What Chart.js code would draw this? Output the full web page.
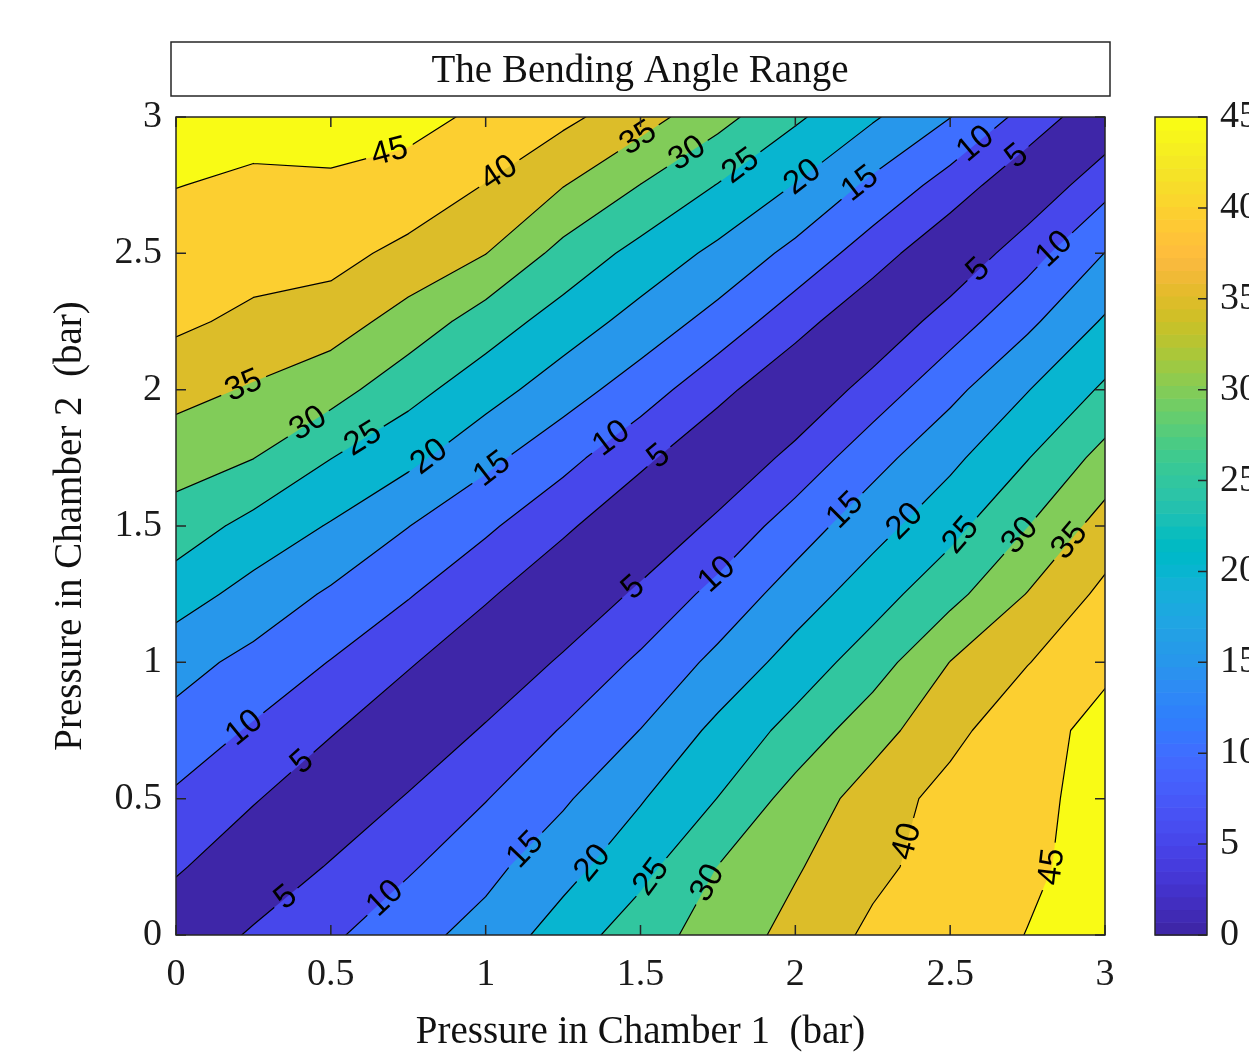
<!DOCTYPE html>
<html>
<head>
<meta charset="utf-8">
<script src="https://cdn.jsdelivr.net/npm/chart.js@4.4.0/dist/chart.umd.min.js"></script>
<style>
  html, body { margin: 0; padding: 0; background: #fff; }
</style>
</head>
<body>
<canvas id="chart" width="1249" height="1052"></canvas>
<script>
// grid of the measurements
var pressure1 = [0, 0.25, 0.5, 0.75, 1, 1.25, 1.5, 1.75, 2, 2.25, 2.5, 2.75, 3];
var pressure2 = [0, 0.25, 0.5, 0.75, 1, 1.25, 1.5, 1.75, 2, 2.25, 2.5, 2.75, 3];
// bending angle, one row per chamber 2 pressure, one column per chamber 1 pressure
var angle = [
  [0.5, 5.8, 9.2, 13.3, 16.8, 22.3, 27.8, 32.2, 36.6, 41.0, 43.0, 45.1, 47.0],
  [5.8, 0.5, 5.5, 9.4, 13.6, 18.2, 23.4, 30.1, 34.5, 38.8, 42.2, 44.3, 46.5],
  [9.2, 5.5, 0.5, 5.5, 9.8, 14.3, 19.6, 25.1, 32.0, 37.2, 41.9, 43.9, 46.5],
  [13.3, 9.4, 5.5, 0.5, 5.6, 10.4, 15.1, 21.3, 26.7, 33.1, 38.4, 44.0, 45.8],
  [16.8, 13.6, 9.8, 5.6, 0.6, 5.8, 10.9, 16.3, 22.1, 27.6, 35.1, 39.8, 44.5],
  [22.3, 18.2, 14.3, 10.4, 5.8, 0.6, 6.0, 11.6, 17.3, 22.8, 28.4, 35.2, 41.2],
  [27.8, 23.4, 19.6, 15.1, 10.9, 6.0, 0.6, 6.2, 12.5, 18.1, 23.4, 29.9, 37.1],
  [32.2, 30.1, 25.1, 21.3, 16.3, 11.6, 6.2, 0.7, 6.5, 13.2, 18.8, 24.8, 31.7],
  [36.6, 34.5, 32.0, 26.7, 22.1, 17.3, 12.5, 6.5, 0.7, 7.0, 13.6, 19.8, 25.8],
  [41.0, 38.8, 37.2, 33.1, 27.6, 22.8, 18.1, 13.2, 7.0, 0.8, 7.4, 13.9, 20.6],
  [43.0, 42.2, 41.9, 38.4, 35.1, 28.4, 23.4, 18.8, 13.6, 7.4, 0.8, 7.9, 15.1],
  [45.1, 44.3, 44.5, 44.0, 39.8, 35.2, 29.9, 24.8, 19.8, 13.9, 7.9, 0.9, 8.3],
  [47.0, 46.5, 46.5, 45.8, 44.5, 41.2, 37.1, 31.7, 25.8, 20.6, 15.1, 8.3, 1.0]
];
var levels = [5, 10, 15, 20, 25, 30, 35, 40, 45];
var colorMin = 0, colorMax = 45;

// where the contour labels sit (data units) and which line they belong to
var labelP1 = [0.69, 1.04, 1.50, 1.66, 1.83, 2.03, 2.22, 2.59, 2.72, 2.59, 2.84, 1.57, 1.42, 2.15, 2.35, 2.53, 2.72, 2.88, 1.74, 1.48, 0.22, 0.43, 0.62, 0.82, 1.02, 0.22, 0.41, 0.36, 0.67, 1.13, 1.36, 1.55, 1.75, 2.37, 2.83];
var labelP2 = [2.87, 2.80, 2.91, 2.85, 2.81, 2.77, 2.74, 2.89, 2.85, 2.44, 2.51, 1.74, 1.80, 1.57, 1.52, 1.47, 1.47, 1.45, 1.33, 1.27, 2.01, 1.87, 1.79, 1.75, 1.71, 0.76, 0.63, 0.13, 0.14, 0.31, 0.25, 0.20, 0.17, 0.34, 0.25];
var labelLevel = [45, 40, 35, 30, 25, 20, 15, 10, 5, 5, 10, 5, 10, 15, 20, 25, 30, 35, 10, 5, 35, 30, 25, 20, 15, 10, 5, 5, 10, 15, 20, 25, 30, 40, 45];

// parula, 64 steps
var parula = ['#3e26a8','#402ab4','#422ec0','#4332cb','#4537d5','#463cde','#4741e5','#4747eb',
  '#484df0','#4852f4','#4758f8','#465efb','#4563fd','#4269fe','#3e6fff','#3875fe',
  '#327cfc','#2f81fa','#2e87f7','#2d8cf3','#2b91ef','#2797eb','#259be8','#23a0e5',
  '#20a5e3','#1ca9df','#18addb','#12b1d6','#08b5d0','#01b8ca','#02bac3','#0bbdbd',
  '#19bfb6','#24c1ae','#2cc4a7','#31c69f','#37c897','#3fca8e','#4acb84','#57cc7a',
  '#64cd6f','#72cd64','#81cc59','#8fcb4e','#9dc943','#abc739','#b9c431','#c5c22a',
  '#d1bf27','#dcbd29','#e6bb2d','#f0ba36','#f8ba3d','#febe3c','#fec338','#fec934',
  '#fccf30','#fad62d','#f7dc2a','#f5e327','#f5e924','#f6ef20','#f7f51b','#f9fb15'];

function levelColor(v) {
  var k = Math.floor((v - colorMin) / (colorMax - colorMin) * parula.length);
  return parula[Math.max(0, Math.min(parula.length - 1, k))];
}

function cross(a, b, va, vb, L) {
  var t = (L - va) / (vb - va);
  return [a[0] + t * (b[0] - a[0]), a[1] + t * (b[1] - a[1])];
}

function cell(i, j) {
  return {
    c: [[pressure1[i], pressure2[j]], [pressure1[i + 1], pressure2[j]], [pressure1[i + 1], pressure2[j + 1]], [pressure1[i], pressure2[j + 1]]],
    v: [angle[j][i], angle[j][i + 1], angle[j + 1][i + 1], angle[j + 1][i]]
  };
}

// region where angle >= L, cell by cell (marching squares)
function regionAbove(L) {
  var polys = [];
  for (var j = 0; j < pressure2.length - 1; j++) {
    for (var i = 0; i < pressure1.length - 1; i++) {
      var q = cell(i, j), pts = [], kind = [], nx = 0;
      for (var k = 0; k < 4; k++) {
        var n = (k + 1) % 4;
        if (q.v[k] >= L) { pts.push(q.c[k]); kind.push(1); }
        if ((q.v[k] >= L) !== (q.v[n] >= L)) { pts.push(cross(q.c[k], q.c[n], q.v[k], q.v[n], L)); kind.push(0); nx++; }
      }
      if (!pts.length) continue;
      var mid = (q.v[0] + q.v[1] + q.v[2] + q.v[3]) / 4;
      if (nx === 4 && mid < L) {
        for (var m = 0; m < pts.length; m++) {
          if (kind[m] === 1) polys.push([pts[(m - 1 + pts.length) % pts.length], pts[m], pts[(m + 1) % pts.length]]);
        }
      } else {
        polys.push(pts);
      }
    }
  }
  return polys;
}

function contourSegments(L) {
  var segs = [];
  for (var j = 0; j < pressure2.length - 1; j++) {
    for (var i = 0; i < pressure1.length - 1; i++) {
      var q = cell(i, j), xs = [], idx = [];
      for (var k = 0; k < 4; k++) {
        var n = (k + 1) % 4;
        if ((q.v[k] >= L) !== (q.v[n] >= L)) { xs[k] = cross(q.c[k], q.c[n], q.v[k], q.v[n], L); idx.push(k); }
      }
      if (idx.length === 2) segs.push([xs[idx[0]], xs[idx[1]]]);
      else if (idx.length === 4) {
        var midHigh = (q.v[0] + q.v[1] + q.v[2] + q.v[3]) / 4 >= L;
        for (var k2 = 0; k2 < 4; k2++) {
          if ((q.v[k2] >= L) !== midHigh) segs.push([xs[(k2 + 3) % 4], xs[k2]]);
        }
      }
    }
  }
  return segs;
}

var axisColor = '#262626';
var serif = '"Liberation Serif", "Times New Roman", serif';

var contourPlugin = {
  id: 'contourFill',
  beforeDatasetsDraw: function (chart) {
    var ctx = chart.ctx, a = chart.chartArea, sx = chart.scales.x, sy = chart.scales.y;
    function X(p) { return sx.getPixelForValue(p[0]); }
    function Y(p) { return sy.getPixelForValue(p[1]); }

    ctx.save();
    ctx.beginPath();
    ctx.rect(a.left, a.top, a.right - a.left, a.bottom - a.top);
    ctx.clip();

    // filled bands
    ctx.fillStyle = levelColor(colorMin);
    ctx.fillRect(a.left, a.top, a.right - a.left, a.bottom - a.top);
    levels.forEach(function (L) {
      ctx.beginPath();
      regionAbove(L).forEach(function (poly) {
        poly.forEach(function (p, m) {
          if (m === 0) ctx.moveTo(X(p), Y(p)); else ctx.lineTo(X(p), Y(p));
        });
        ctx.closePath();
      });
      ctx.fillStyle = levelColor(L);
      ctx.fill();
    });

    // label places, snapped onto their line
    var segsByLevel = {};
    levels.forEach(function (L) { segsByLevel[L] = contourSegments(L); });
    ctx.font = '33px "Liberation Sans", Arial, sans-serif';
    var tags = [];
    for (var n = 0; n < labelLevel.length; n++) {
      var tx = sx.getPixelForValue(labelP1[n]), ty = sy.getPixelForValue(labelP2[n]);
      var best = null, bd = Infinity;
      segsByLevel[labelLevel[n]].forEach(function (s) {
        var ax = X(s[0]), ay = Y(s[0]), bx = X(s[1]), by = Y(s[1]);
        var dx = bx - ax, dy = by - ay, len2 = dx * dx + dy * dy;
        var t = len2 ? ((tx - ax) * dx + (ty - ay) * dy) / len2 : 0;
        t = Math.max(0, Math.min(1, t));
        var cx = ax + t * dx, cy = ay + t * dy, d = (cx - tx) * (cx - tx) + (cy - ty) * (cy - ty);
        if (d < bd) { bd = d; best = { x: cx, y: cy, ang: Math.atan2(dy, dx) }; }
      });
      if (!best) continue;
      var ang = best.ang;
      if (ang > Math.PI / 2) ang -= Math.PI;
      if (ang <= -Math.PI / 2) ang += Math.PI;
      var text = String(labelLevel[n]);
      tags.push({ x: best.x, y: best.y, ang: ang, text: text, w: ctx.measureText(text).width });
    }

    // contour lines, broken where a label sits
    ctx.save();
    ctx.beginPath();
    ctx.rect(a.left, a.top, a.right - a.left, a.bottom - a.top);
    tags.forEach(function (g) {
      var hw = g.w / 2 + 6, hh = 14, c = Math.cos(g.ang), s = Math.sin(g.ang);
      [[-hw, -hh], [hw, -hh], [hw, hh], [-hw, hh]].forEach(function (p, m) {
        var px = g.x + p[0] * c - p[1] * s, py = g.y + p[0] * s + p[1] * c;
        if (m === 0) ctx.moveTo(px, py); else ctx.lineTo(px, py);
      });
      ctx.closePath();
    });
    ctx.clip('evenodd');
    ctx.strokeStyle = '#000';
    ctx.lineWidth = 1.2;
    ctx.lineCap = 'round';
    ctx.lineJoin = 'round';
    levels.forEach(function (L) {
      ctx.beginPath();
      segsByLevel[L].forEach(function (s) {
        ctx.moveTo(X(s[0]), Y(s[0]));
        ctx.lineTo(X(s[1]), Y(s[1]));
      });
      ctx.stroke();
    });
    ctx.restore();

    ctx.fillStyle = '#000';
    ctx.textAlign = 'center';
    ctx.textBaseline = 'middle';
    tags.forEach(function (g) {
      ctx.save();
      ctx.translate(g.x, g.y);
      ctx.rotate(g.ang);
      ctx.fillText(g.text, 0, 0);
      ctx.restore();
    });
    ctx.restore();

    // box and inward ticks
    ctx.save();
    ctx.strokeStyle = axisColor;
    ctx.lineWidth = 1.5;
    ctx.strokeRect(a.left, a.top, a.right - a.left, a.bottom - a.top);
    ctx.beginPath();
    sx.ticks.forEach(function (t) {
      var px = sx.getPixelForValue(t.value);
      ctx.moveTo(px, a.bottom); ctx.lineTo(px, a.bottom - 10);
      ctx.moveTo(px, a.top); ctx.lineTo(px, a.top + 10);
    });
    sy.ticks.forEach(function (t) {
      var py = sy.getPixelForValue(t.value);
      ctx.moveTo(a.left, py); ctx.lineTo(a.left + 10, py);
      ctx.moveTo(a.right, py); ctx.lineTo(a.right - 10, py);
    });
    ctx.stroke();
    ctx.restore();
  },
  afterDraw: function (chart) {
    var ctx = chart.ctx, a = chart.chartArea, cb = chart.scales.cb;
    // title frame
    ctx.save();
    ctx.strokeStyle = axisColor;
    ctx.lineWidth = 1.5;
    ctx.strokeRect(a.left - 5, 42, a.right - a.left + 10, 54);

    // colorbar
    var left = a.right + 50, w = 52;
    for (var k = 0; k < parula.length; k++) {
      var v0 = colorMin + (colorMax - colorMin) * k / parula.length;
      var v1 = colorMin + (colorMax - colorMin) * (k + 1) / parula.length;
      var y0 = cb.getPixelForValue(v0), y1 = cb.getPixelForValue(v1);
      ctx.fillStyle = parula[k];
      ctx.fillRect(left, y1, w, y0 - y1 + 0.6);
    }
    ctx.strokeRect(left, cb.getPixelForValue(colorMax), w, cb.getPixelForValue(colorMin) - cb.getPixelForValue(colorMax));
    ctx.beginPath();
    cb.ticks.forEach(function (t) {
      var py = cb.getPixelForValue(t.value);
      ctx.moveTo(left + w, py); ctx.lineTo(left + w - 9, py);
    });
    ctx.stroke();
    ctx.restore();
  }
};

function plainTick(v) { return String(v); }

var chart = new Chart(document.getElementById('chart'), {
  type: 'scatter',
  data: { datasets: [] },
  options: {
    responsive: false,
    animation: false,
    layout: { padding: { left: 31, right: 0, top: 0, bottom: 0 } },
    plugins: {
      legend: { display: false },
      tooltip: { enabled: false },
      title: {
        display: true,
        text: 'The Bending Angle Range',
        color: '#111',
        font: { family: serif, size: 39, weight: 'normal', lineHeight: 1.2 },
        padding: { top: 48, bottom: 22.2 }
      }
    },
    scales: {
      x: {
        type: 'linear', position: 'bottom', min: 0, max: 3,
        ticks: { stepSize: 0.5, color: '#1a1a1a', padding: 21, maxRotation: 0, callback: plainTick, font: { family: serif, size: 38, lineHeight: 1 } },
        grid: { display: false, drawTicks: false },
        border: { display: false },
        title: { display: true, text: 'Pressure in Chamber 1  (bar)', color: '#111', font: { family: serif, size: 39, lineHeight: 0.8 }, padding: { top: 0, bottom: 3.6 } },
        afterFit: function (s) { s.height = 117; }
      },
      y: {
        type: 'linear', position: 'left', min: 0, max: 3,
        ticks: { stepSize: 0.5, color: '#1a1a1a', padding: 14, callback: plainTick, font: { family: serif, size: 38, lineHeight: 1 } },
        grid: { display: false, drawTicks: false },
        border: { display: false },
        title: { display: true, text: 'Pressure in Chamber 2  (bar)', color: '#111', font: { family: serif, size: 39, lineHeight: 0.8 }, padding: { top: 24.2, bottom: 0 } },
        afterFit: function (s) { s.width = 145; }
      },
      cb: {
        type: 'linear', axis: 'y', position: 'right', min: colorMin, max: colorMax,
        ticks: { stepSize: 5, color: '#1a1a1a', padding: 0, callback: plainTick, font: { family: serif, size: 38, lineHeight: 1 } },
        grid: { display: false, drawTicks: true, tickLength: 115 },
        border: { display: false },
        afterFit: function (s) { s.width = 144; }
      }
    }
  },
  plugins: [contourPlugin]
});
</script>
</body>
</html>
